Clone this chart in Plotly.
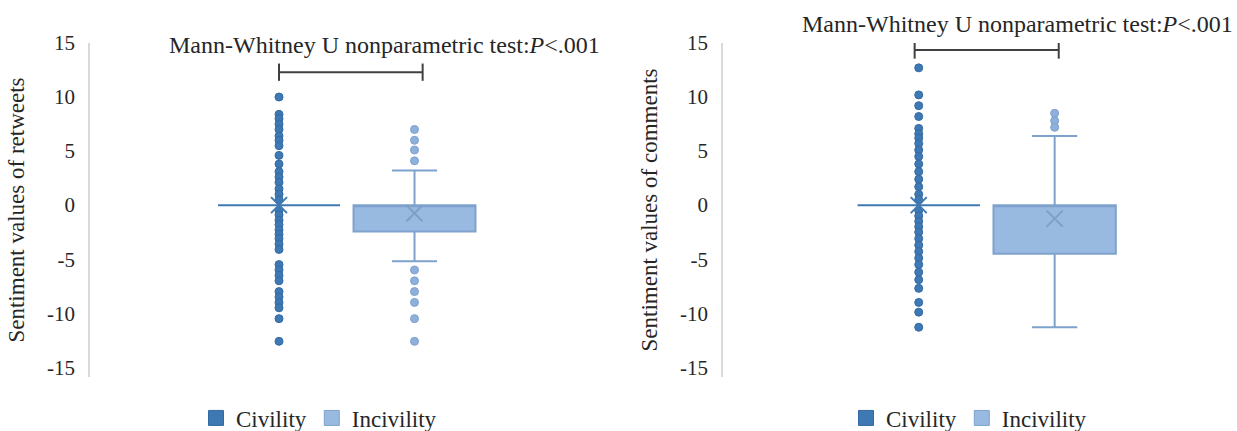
import plotly.graph_objects as go

# ---------------- data ----------------
categories = ["Civility", "Incivility"]

# Left panel: retweets
rt_civ_stats = dict(q1=0, median=0, q3=0, low=0, high=0, mean=0)
rt_civ_outliers = [10.0, 8.4, 8.0, 7.5, 7.0, 6.4, 6.0, 5.5, 4.6, 3.8, 3.1, 2.6, 2.1, 1.5,
                   1.0, 0.5, -0.5, -0.9, -1.4, -1.8, -2.3, -2.7, -3.1, -3.6, -4.1,
                   -5.5, -6.0, -6.5, -7.0, -8.0, -8.5, -9.0, -9.5, -10.5, -12.6]
rt_inc_stats = dict(q1=-2.45, median=0, q3=0, low=-5.2, high=3.2, mean=-0.75)
rt_inc_outliers = [7.0, 6.0, 5.1, 4.1, -6.0, -7.0, -8.0, -9.0, -10.5, -12.6]

# Right panel: comments
cm_civ_stats = dict(q1=0, median=0, q3=0, low=0, high=0, mean=0)
cm_civ_outliers = [12.7, 10.2, 9.2, 8.2, 7.1, 6.6, 6.2, 5.7, 5.1, 4.5, 3.8, 3.1, 2.4, 1.7,
                   1.0, 0.5, -0.5, -1.0, -1.5, -2.0, -2.5, -3.1, -3.7, -4.3, -4.9, -5.5,
                   -6.2, -6.9, -7.7, -9.0, -9.9, -11.3]
cm_inc_stats = dict(q1=-4.5, median=0, q3=0, low=-11.3, high=6.4, mean=-1.25)
cm_inc_outliers = [8.5, 7.8, 7.2]

y_titles = ["Sentiment values of retweets", "Sentiment values of comments"]
test_label = "Mann-Whitney U nonparametric test:<i>P</i>&lt;.001"
y_ticks = [-15, -10, -5, 0, 5, 10, 15]
y_tick_text = ["-15", "-10", "-5", "0", "5", "10", "15"]

# ---------------- styles ----------------
FONT = '"Liberation Serif", "Times New Roman", serif'
TXT = "#262626"
CIV = "#3f79b3"
CIV_EDGE = "#336aa3"
INC = "#98b9e0"
INC_EDGE = "#7fa2cd"
INC_DOT = "#8eb0da"

W, H = 1237, 431

fig = go.Figure()

panels = [
    dict(xa="x", ya="y", civ=rt_civ_stats, civo=rt_civ_outliers, inc=rt_inc_stats,
         inco=rt_inc_outliers, legend="legend"),
    dict(xa="x2", ya="y2", civ=cm_civ_stats, civo=cm_civ_outliers, inc=cm_inc_stats,
         inco=cm_inc_outliers, legend="legend2"),
]

for p in panels:
    for cat, st, outs, fill, edge, dot in [
        (categories[0], p["civ"], p["civo"], CIV, CIV_EDGE, CIV),
        (categories[1], p["inc"], p["inco"], INC, INC_EDGE, INC_DOT),
    ]:
        fig.add_trace(go.Box(
            x=[cat], q1=[st["q1"]], median=[st["median"]], q3=[st["q3"]],
            lowerfence=[st["low"]], upperfence=[st["high"]],
            width=0.9, whiskerwidth=0.37,
            fillcolor=fill, line=dict(color=edge if cat == categories[1] else CIV, width=2),
            boxpoints=False, showlegend=False, xaxis=p["xa"], yaxis=p["ya"],
            hoverinfo="skip",
        ))
        fig.add_trace(go.Scatter(
            x=[cat] * len(outs), y=outs, mode="markers",
            marker=dict(size=8, color=dot, line=dict(color=edge, width=1)),
            showlegend=False, xaxis=p["xa"], yaxis=p["ya"],
        ))
        fig.add_trace(go.Scatter(
            x=[cat], y=[st["mean"]], mode="markers",
            marker=dict(symbol="x-thin", size=16,
                        line=dict(color=CIV if cat == categories[0] else "#7d9fc9", width=2)),
            showlegend=False, xaxis=p["xa"], yaxis=p["ya"],
        ))
    # legend entries
    for cat, fill, edge in [(categories[0], CIV, CIV_EDGE), (categories[1], INC, INC_EDGE)]:
        fig.add_trace(go.Scatter(
            x=[None], y=[None], mode="markers", name=cat,
            marker=dict(symbol="square", size=15, color=fill, line=dict(color=edge, width=1)),
            legend=p["legend"], xaxis=p["xa"], yaxis=p["ya"],
        ))

ydom = [1 - 377 / H, 1 - 43 / H]
axis_common = dict(range=[-15.9, 15], tickvals=y_ticks, ticktext=y_tick_text,
                   showgrid=False, zeroline=False,
                   showline=True, linecolor="#d9d9d9", linewidth=1.5, ticks="",
                   tickfont=dict(family=FONT, size=21, color=TXT),
                   ticklabelstandoff=9, domain=ydom, automargin=False)

legend_common = dict(orientation="h", xanchor="left", y=1 - 418 / H, yanchor="middle",
                     font=dict(family=FONT, size=23, color=TXT), bgcolor="rgba(0,0,0,0)",
                     itemclick=False, tracegroupgap=0)

fig.update_layout(
    width=W, height=H, margin=dict(l=0, r=0, t=0, b=0, autoexpand=False),
    paper_bgcolor="white", plot_bgcolor="white",
    font=dict(family=FONT, color=TXT),
    xaxis=dict(domain=[90 / W, 600 / W], type="category", categoryarray=categories,
               range=[-1.395, 2.369], visible=False),
    xaxis2=dict(domain=[723 / W, 1230 / W], type="category", categoryarray=categories,
                range=[-1.44, 2.29], visible=False),
    yaxis=dict(**axis_common, title=dict(text=y_titles[0], standoff=16,
                                         font=dict(family=FONT, size=23, color=TXT))),
    yaxis2=dict(**axis_common, anchor="x2",
                title=dict(text=y_titles[1], standoff=16,
                           font=dict(family=FONT, size=23, color=TXT))),
    legend=dict(**legend_common, x=196 / W),
    legend2=dict(**legend_common, x=846 / W),
    showlegend=True,
)

# significance brackets and labels
brackets = [
    dict(xr="x", yr="y", x0=0, x1=1.06, y=12.3, tx=0.775, ty=45),
    dict(xr="x2", yr="y2", x0=-0.03, x1=1.03, y=14.35, tx=0.73, ty=24),
]
for b in brackets:
    lc = dict(color="#404040", width=2)
    fig.add_shape(type="line", xref=b["xr"], yref=b["yr"], x0=b["x0"], x1=b["x1"],
                  y0=b["y"], y1=b["y"], line=lc)
    for xx in (b["x0"], b["x1"]):
        fig.add_shape(type="line", xref=b["xr"], yref=b["yr"], x0=xx, x1=xx,
                      y0=b["y"] - 0.8, y1=b["y"] + 0.8, line=lc)
    fig.add_annotation(xref=b["xr"], yref="paper", x=b["tx"], y=1 - b["ty"] / H,
                       yanchor="middle", text=test_label,
                       showarrow=False, font=dict(family=FONT, size=24, color=TXT))

fig.write_html("out.html")
